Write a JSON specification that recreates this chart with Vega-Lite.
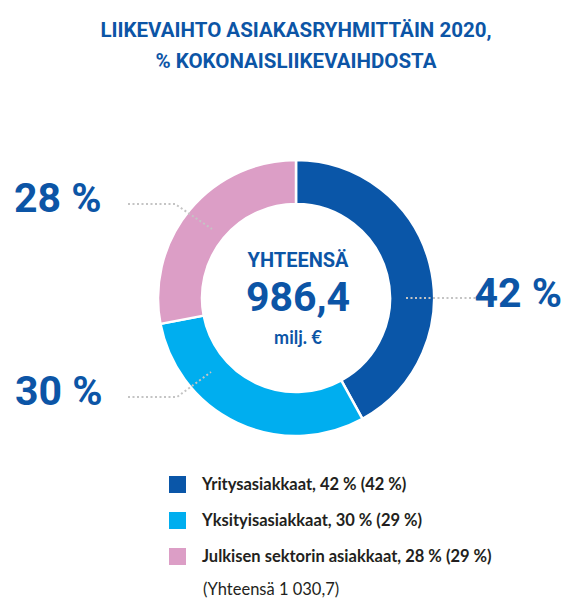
{
  "$schema": "https://vega.github.io/schema/vega-lite/v6.json",
  "width": 552,
  "height": 520,
  "autosize": {"type": "none"},
  "padding": {"left": 20, "right": 0, "top": 80, "bottom": 0},
  "background": "white",
  "config": {"view": {"stroke": null}},
  "title": {
    "text": ["LIIKEVAIHTO ASIAKASRYHMITTÄIN 2020,", "% KOKONAISLIIKEVAIHDOSTA"],
    "anchor": "middle",
    "frame": "group",
    "font": "Roboto",
    "fontSize": 20.5,
    "fontWeight": "bold",
    "color": "#0c55a6",
    "lineHeight": 31,
    "offset": 8
  },
  "datasets": {
    "segments": [
      {"ryhma": "Yritysasiakkaat, 42 % (42 %)", "osuus": 42, "idx": 1},
      {"ryhma": "Yksityisasiakkaat, 30 % (29 %)", "osuus": 30, "idx": 2},
      {"ryhma": "Julkisen sektorin asiakkaat, 28 % (29 %)", "osuus": 28, "idx": 3}
    ],
    "leaders": [
      {"seg": "42", "i": 0, "x": 110, "y": 0},
      {"seg": "42", "i": 1, "x": 181, "y": 0},
      {"seg": "28", "i": 0, "x": -168, "y": 94},
      {"seg": "28", "i": 1, "x": -121, "y": 94},
      {"seg": "28", "i": 2, "x": -84, "y": 69},
      {"seg": "30", "i": 0, "x": -168, "y": -99},
      {"seg": "30", "i": 1, "x": -119, "y": -99},
      {"seg": "30", "i": 2, "x": -85, "y": -74}
    ],
    "labels_right": [
      {"teksti": "42 %", "x": 266, "y": 3}
    ],
    "labels_left": [
      {"teksti": "28 %", "x": -282, "y": 98},
      {"teksti": "30 %", "x": -281, "y": -95}
    ]
  },
  "layer": [
    {
      "data": {"name": "segments"},
      "mark": {"type": "arc", "outerRadius": 138, "innerRadius": 94, "stroke": "white", "strokeWidth": 2.5},
      "encoding": {
        "x": {"datum": 0, "type": "quantitative", "scale": {"domain": [-276, 276], "nice": false, "zero": false}, "axis": null},
        "y": {"datum": 0, "type": "quantitative", "scale": {"domain": [-302, 218], "nice": false, "zero": false}, "axis": null},
        "theta": {"field": "osuus", "type": "quantitative", "stack": true},
        "order": {"field": "idx", "type": "quantitative"},
        "color": {
          "field": "ryhma",
          "type": "nominal",
          "sort": ["Yritysasiakkaat, 42 % (42 %)", "Yksityisasiakkaat, 30 % (29 %)", "Julkisen sektorin asiakkaat, 28 % (29 %)"],
          "scale": {
            "domain": ["Yritysasiakkaat, 42 % (42 %)", "Yksityisasiakkaat, 30 % (29 %)", "Julkisen sektorin asiakkaat, 28 % (29 %)"],
            "range": ["#0a56a8", "#00aeef", "#dc9ec6"]
          },
          "legend": {
            "title": null,
            "orient": "none",
            "legendX": 149,
            "legendY": 396,
            "symbolType": "square",
            "symbolSize": 289,
            "symbolStrokeWidth": 0,
            "labelFont": "Lato",
            "labelFontSize": 16.5,
            "labelFontWeight": "bold",
            "labelColor": "#231f20",
            "labelOffset": 16,
            "labelLimit": 400,
            "rowPadding": 19,
            "padding": 0
          }
        }
      }
    },
    {
      "data": {"name": "leaders"},
      "mark": {"type": "line", "color": "#c4c4c4", "strokeWidth": 2, "strokeDash": [2, 2.5]},
      "encoding": {
        "x": {"field": "x", "type": "quantitative"},
        "y": {"field": "y", "type": "quantitative"},
        "detail": {"field": "seg"},
        "order": {"field": "i", "type": "quantitative"}
      }
    },
    {
      "data": {"name": "labels_right"},
      "mark": {"type": "text", "font": "Roboto", "fontSize": 41, "fontWeight": "bold", "color": "#0c55a6", "align": "right", "baseline": "middle"},
      "encoding": {
        "x": {"field": "x", "type": "quantitative"},
        "y": {"field": "y", "type": "quantitative"},
        "text": {"field": "teksti"}
      }
    },
    {
      "data": {"name": "labels_left"},
      "mark": {"type": "text", "font": "Roboto", "fontSize": 41, "fontWeight": "bold", "color": "#0c55a6", "align": "left", "baseline": "middle"},
      "encoding": {
        "x": {"field": "x", "type": "quantitative"},
        "y": {"field": "y", "type": "quantitative"},
        "text": {"field": "teksti"}
      }
    },
    {
      "data": {"values": [{"teksti": "YHTEENSÄ", "x": 2, "y": 37}]},
      "mark": {"type": "text", "font": "Roboto", "fontSize": 20, "fontWeight": "bold", "color": "#0c55a6", "align": "center", "baseline": "middle"},
      "encoding": {
        "x": {"field": "x", "type": "quantitative"},
        "y": {"field": "y", "type": "quantitative"},
        "text": {"field": "teksti"}
      }
    },
    {
      "data": {"values": [{"teksti": "986,4", "x": 2, "y": -1}]},
      "mark": {"type": "text", "font": "Roboto", "fontSize": 41, "fontWeight": "bold", "color": "#0c55a6", "align": "center", "baseline": "middle"},
      "encoding": {
        "x": {"field": "x", "type": "quantitative"},
        "y": {"field": "y", "type": "quantitative"},
        "text": {"field": "teksti"}
      }
    },
    {
      "data": {"values": [{"teksti": "milj. €", "x": 2, "y": -41}]},
      "mark": {"type": "text", "font": "Lato", "fontSize": 18, "fontWeight": "bold", "color": "#0c55a6", "align": "center", "baseline": "middle"},
      "encoding": {
        "x": {"field": "x", "type": "quantitative"},
        "y": {"field": "y", "type": "quantitative"},
        "text": {"field": "teksti"}
      }
    },
    {
      "data": {"values": [{"teksti": "(Yhteensä 1 030,7)", "x": -93, "y": -292}]},
      "mark": {"type": "text", "font": "Lato", "fontSize": 16.5, "color": "#231f20", "align": "left", "baseline": "middle"},
      "encoding": {
        "x": {"field": "x", "type": "quantitative"},
        "y": {"field": "y", "type": "quantitative"},
        "text": {"field": "teksti"}
      }
    }
  ]
}
